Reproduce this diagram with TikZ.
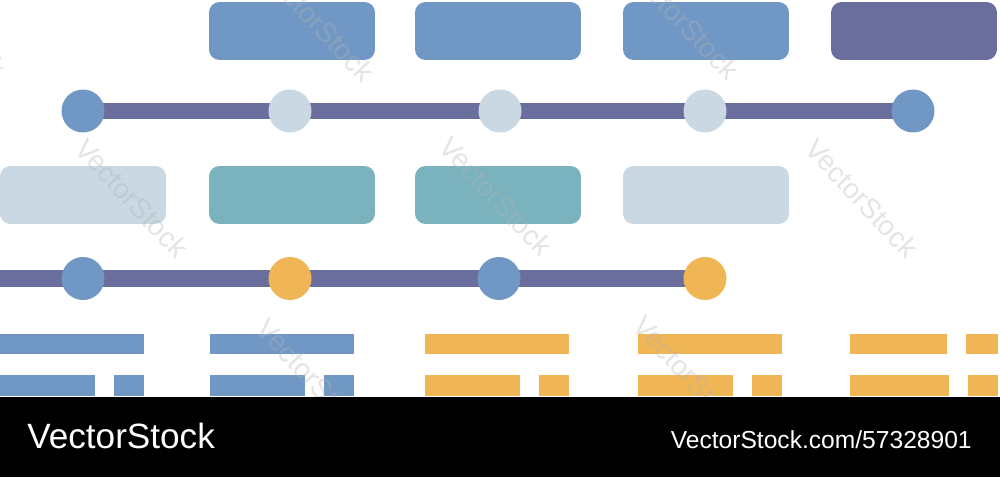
\documentclass[tikz,border=0pt]{standalone}
\usepackage{fontspec}
\newfontfamily\vsfont{Liberation Sans}
\usetikzlibrary{backgrounds}
\definecolor{Blucol}{RGB}{113, 152, 197}
\definecolor{Viocol}{RGB}{105, 110, 156}
\definecolor{Chiarocol}{RGB}{201, 216, 227}
\definecolor{Tealcol}{RGB}{122, 178, 190}
\definecolor{Orcol}{RGB}{240, 182, 86}

\begin{document}
\begin{tikzpicture}[
    x=0.02cm, y=-0.02cm,
    blocco/.style={
        rectangle, rounded corners=6pt,
        minimum width=3.32cm, minimum height=1.16cm,
        inner sep=0pt
    },
    punto/.style={
        circle, minimum size=0.86cm, inner sep=0pt
    },
    barra/.style={
        line width=0.33cm, color=Viocol
    },
    filigrana/.style={
        text=black!30, text opacity=0.35,
        font=\vsfont\fontsize{16}{16}\selectfont,
        rotate=-47
    }
]

    % Area del disegno
    \clip (0,0) rectangle (1000,477);

    % ------------------- BLOCCHI (RIGA ALTA) -------------------
    \node[blocco, fill=Blucol] (bA1) at (292,31) {};
    \node[blocco, fill=Blucol] (bA2) at (498,31) {};
    \node[blocco, fill=Blucol] (bA3) at (706,31) {};
    \node[blocco, fill=Viocol] (bA4) at (914,31) {};

    % ------------------- PRIMA LINEA DEL TEMPO -------------------
    \node[punto, fill=Blucol] (t1a) at (83,111) {};
    \node[punto, fill=Chiarocol] (t1b) at (290,111) {};
    \node[punto, fill=Chiarocol] (t1c) at (500,111) {};
    \node[punto, fill=Chiarocol] (t1d) at (705,111) {};
    \node[punto, fill=Blucol] (t1e) at (913,111) {};

    % ------------------- BLOCCHI (RIGA BASSA) -------------------
    \node[blocco, fill=Chiarocol] (bB1) at (83,195) {};
    \node[blocco, fill=Tealcol] (bB2) at (292,195) {};
    \node[blocco, fill=Tealcol] (bB3) at (498,195) {};
    \node[blocco, fill=Chiarocol] (bB4) at (706,195) {};

    % ------------------- SECONDA LINEA DEL TEMPO -------------------
    \coordinate (t2inizio) at (0,278.5);
    \node[punto, fill=Blucol] (t2a) at (83,278.5) {};
    \node[punto, fill=Orcol] (t2b) at (290,278.5) {};
    \node[punto, fill=Blucol] (t2c) at (499,278.5) {};
    \node[punto, fill=Orcol] (t2d) at (705,278.5) {};

    % Barre dietro ai punti
    \begin{scope}[on background layer]
        \draw[barra] (t1a.center) -- (t1e.center);
        \draw[barra] (t2inizio) -- (t2d.center);
    \end{scope}

    % ------------------- TRATTINI -------------------
    \foreach \x/\col in {0/Blucol, 210/Blucol, 425/Orcol, 638/Orcol} {
        \fill[\col] (\x,334) rectangle (\x+144,354);
        \fill[\col] (\x,375) rectangle (\x+95,396);
        \fill[\col] (\x+114,375) rectangle (\x+144,396);
    }
    % ultimo gruppo (tagliato a destra)
    \fill[Orcol] (850,334) rectangle (947,354);
    \fill[Orcol] (966,334) rectangle (998,354);
    \fill[Orcol] (850,375) rectangle (949,396);
    \fill[Orcol] (968,375) rectangle (998,396);

    % ------------------- FILIGRANA -------------------
    \node[filigrana] (wm1) at (-50,18) {VectorStock};
    \node[filigrana] (wm2) at (318,22) {VectorStock};
    \node[filigrana] (wm3) at (683,20) {VectorStock};
    \node[filigrana] (wm4) at (132,198) {VectorStock};
    \node[filigrana] (wm5) at (496,196) {VectorStock};
    \node[filigrana] (wm6) at (862,198) {VectorStock};
    \node[filigrana] (wm7) at (313,378) {VectorStock};
    \node[filigrana] (wm8) at (690,375) {VectorStock};

    % ------------------- FASCIA NERA -------------------
    \fill[black] (0,397) rectangle (1000,477);
    \node[anchor=base west, inner sep=0pt, text=white,
          font=\vsfont\fontsize{20}{20}\selectfont] (logo) at (27,448) {VectorStock};
    \node[anchor=base east, inner sep=0pt, text=white,
          font=\vsfont\fontsize{14}{14}\selectfont] (codice) at (972,448) {VectorStock.com/57328901};
\end{tikzpicture}
\end{document}
